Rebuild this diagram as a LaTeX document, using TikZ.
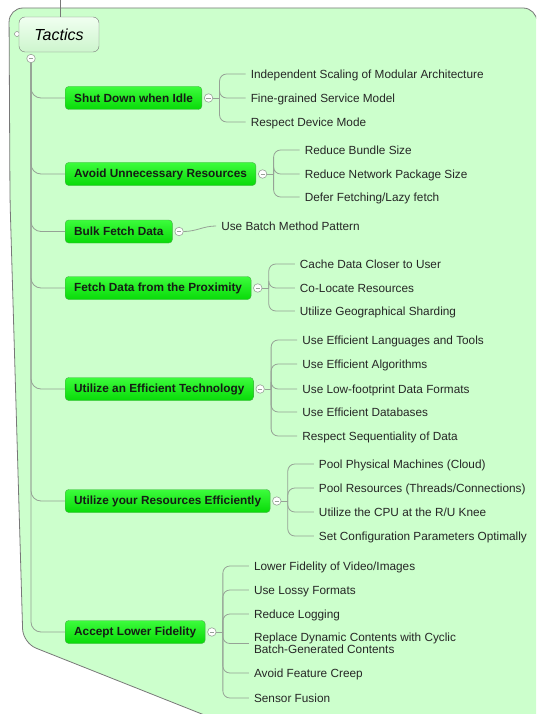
\documentclass[tikz,border=0pt]{standalone}
\usepackage{fontspec}
\setmainfont{Liberation Sans}
\usetikzlibrary{calc}
\definecolor{bg}{RGB}{204,255,204}
\definecolor{bgline}{RGB}{120,120,120}
\definecolor{connc}{RGB}{150,162,150}
\definecolor{boxtop}{RGB}{60,252,60}
\definecolor{boxbot}{RGB}{8,218,8}
\definecolor{boxline}{RGB}{70,175,70}
\definecolor{tactop}{RGB}{240,255,240}
\definecolor{tacbot}{RGB}{205,245,205}
\definecolor{boxtext}{RGB}{20,30,20}
\begin{document}
\begin{tikzpicture}[x=1pt,y=-1pt,
 conn/.style={draw=connc, line width=0.8pt},
 branch/.style={anchor=west, rounded corners=3.5pt, draw=boxline, top color=boxtop, bottom color=boxbot, minimum height=23pt, inner xsep=9pt, inner ysep=2pt, text=boxtext, font=\fontsize{11.8}{14}\selectfont\bfseries},
 leaf/.style={anchor=west, inner xsep=5pt, inner ysep=0pt, text height=8.6pt, text depth=0pt, text=black!85, font=\fontsize{11.8}{12.3}\selectfont, align=left},
 col/.style={circle, draw=connc, fill=white, line width=0.6pt, minimum size=8.5pt, inner sep=0pt, path picture={\draw[line width=0.8pt] ($(path picture bounding box.center)+(-2.1pt,0)$) -- ($(path picture bounding box.center)+(2.1pt,0)$);}},
 tactics/.style={draw=bgline, top color=tactop, bottom color=tacbot, rounded corners=6pt, minimum width=80pt, minimum height=35pt, inner sep=0pt, font=\fontsize{16}{18}\selectfont\itshape},
]
\useasboundingbox (0,0) rectangle (536,714);
\begin{scope}
\clip (0,0) rectangle (536,714);
\filldraw[fill=bg, draw=bgline, line width=0.8pt, rounded corners=14pt]
  (222,722) -- (23,643) -- (10,200) -- (9,8) -- (537,8) -- (537,730) -- cycle;
\end{scope}

% root
\coordinate (topend) at (60,0);
\node[circle, draw=bgline, fill=white, minimum size=5pt, inner sep=0pt] (tdot) at (17,34) {};
\node[tactics] (tac) at (59,34.5) {Tactics};
\draw[bgline, line width=0.8pt] (topend) -- (topend |- tac.north);
\node[col] (tc) at (31,58.5) {};

% branches
\node[branch] (b1) at (65,98) {Shut Down when Idle};
\node[branch] (b2) at (65,174) {Avoid Unnecessary Resources};
\node[branch] (b3) at (65,231.5) {Bulk Fetch Data};
\node[branch] (b4) at (65,288) {Fetch Data from the Proximity};
\node[branch] (b5) at (65,389) {Utilize an Efficient Technology};
\node[branch] (b6) at (65,501) {Utilize your Resources Efficiently};
\node[branch] (b7) at (65,632) {Accept Lower Fidelity};

\foreach \i in {1,...,7}{
  \node[col] (c\i) at ($(b\i.east)+(6.5,0)$) {};
  \draw[conn, rounded corners=10pt] (tc.south) |- (b\i.west);
}

% leaves group 1
\node[leaf] (l11) at ($(c1 |- 0,74)+(37,0)$) {Independent Scaling of Modular Architecture};
\node[leaf] (l12) at ($(c1 |- 0,98)+(37,0)$) {Fine-grained Service Model};
\node[leaf] (l13) at ($(c1 |- 0,122)+(37,0)$) {Respect Device Mode};
% group 2
\node[leaf] (l21) at ($(c2 |- 0,150)+(37,0)$) {Reduce Bundle Size};
\node[leaf] (l22) at ($(c2 |- 0,174)+(37,0)$) {Reduce Network Package Size};
\node[leaf] (l23) at ($(c2 |- 0,197)+(37,0)$) {Defer Fetching/Lazy fetch};
% group 3
\node[leaf] (l31) at ($(c3 |- 0,226)+(37,0)$) {Use Batch Method Pattern};
% group 4
\node[leaf] (l41) at ($(c4 |- 0,264)+(37,0)$) {Cache Data Closer to User};
\node[leaf] (l42) at ($(c4 |- 0,288)+(37,0)$) {Co-Locate Resources};
\node[leaf] (l43) at ($(c4 |- 0,311)+(37,0)$) {Utilize Geographical Sharding};
% group 5
\node[leaf] (l51) at ($(c5 |- 0,340)+(37,0)$) {Use Efficient Languages and Tools};
\node[leaf] (l52) at ($(c5 |- 0,364)+(37,0)$) {Use Efficient Algorithms};
\node[leaf] (l53) at ($(c5 |- 0,389)+(37,0)$) {Use Low-footprint Data Formats};
\node[leaf] (l54) at ($(c5 |- 0,412)+(37,0)$) {Use Efficient Databases};
\node[leaf] (l55) at ($(c5 |- 0,436)+(37,0)$) {Respect Sequentiality of Data};
% group 6
\node[leaf] (l61) at ($(c6 |- 0,464)+(37,0)$) {Pool Physical Machines (Cloud)};
\node[leaf] (l62) at ($(c6 |- 0,488)+(37,0)$) {Pool Resources (Threads/Connections)};
\node[leaf] (l63) at ($(c6 |- 0,512)+(37,0)$) {Utilize the CPU at the R/U Knee};
\node[leaf] (l64) at ($(c6 |- 0,536)+(37,0)$) {Set Configuration Parameters Optimally};
% group 7
\node[leaf] (l71) at ($(c7 |- 0,566)+(37,0)$) {Lower Fidelity of Video/Images};
\node[leaf] (l72) at ($(c7 |- 0,590)+(37,0)$) {Use Lossy Formats};
\node[leaf] (l73) at ($(c7 |- 0,614)+(37,0)$) {Reduce Logging};
\node[leaf] (l74) at ($(c7 |- 0,649)+(37,0)$) {Replace Dynamic Contents with Cyclic\\Batch-Generated Contents};
\node[leaf] (l75) at ($(c7 |- 0,673)+(37,0)$) {Avoid Feature Creep};
\node[leaf] (l76) at ($(c7 |- 0,698)+(37,0)$) {Sensor Fusion};
\coordinate (l74in) at ([yshift=5.5pt]l74.west);

% leaf connectors
\draw[conn] (c3.east) to[out=0,in=180] (l31.west);
\foreach \g/\leaves in {1/{l11.west,l12.west,l13.west},2/{l21.west,l22.west,l23.west},4/{l41.west,l42.west,l43.west},5/{l51.west,l52.west,l53.west,l54.west,l55.west},6/{l61.west,l62.west,l63.west,l64.west},7/{l71.west,l72.west,l73.west,l74in,l75.west,l76.west}}{
  \draw[conn] (c\g.east) -- ($(c\g)+(11,0)$) coordinate (k\g);
  \foreach \l in \leaves {
    \draw[conn, rounded corners=7pt] (k\g) |- (\l);
  }
}
\end{tikzpicture}
\end{document}
